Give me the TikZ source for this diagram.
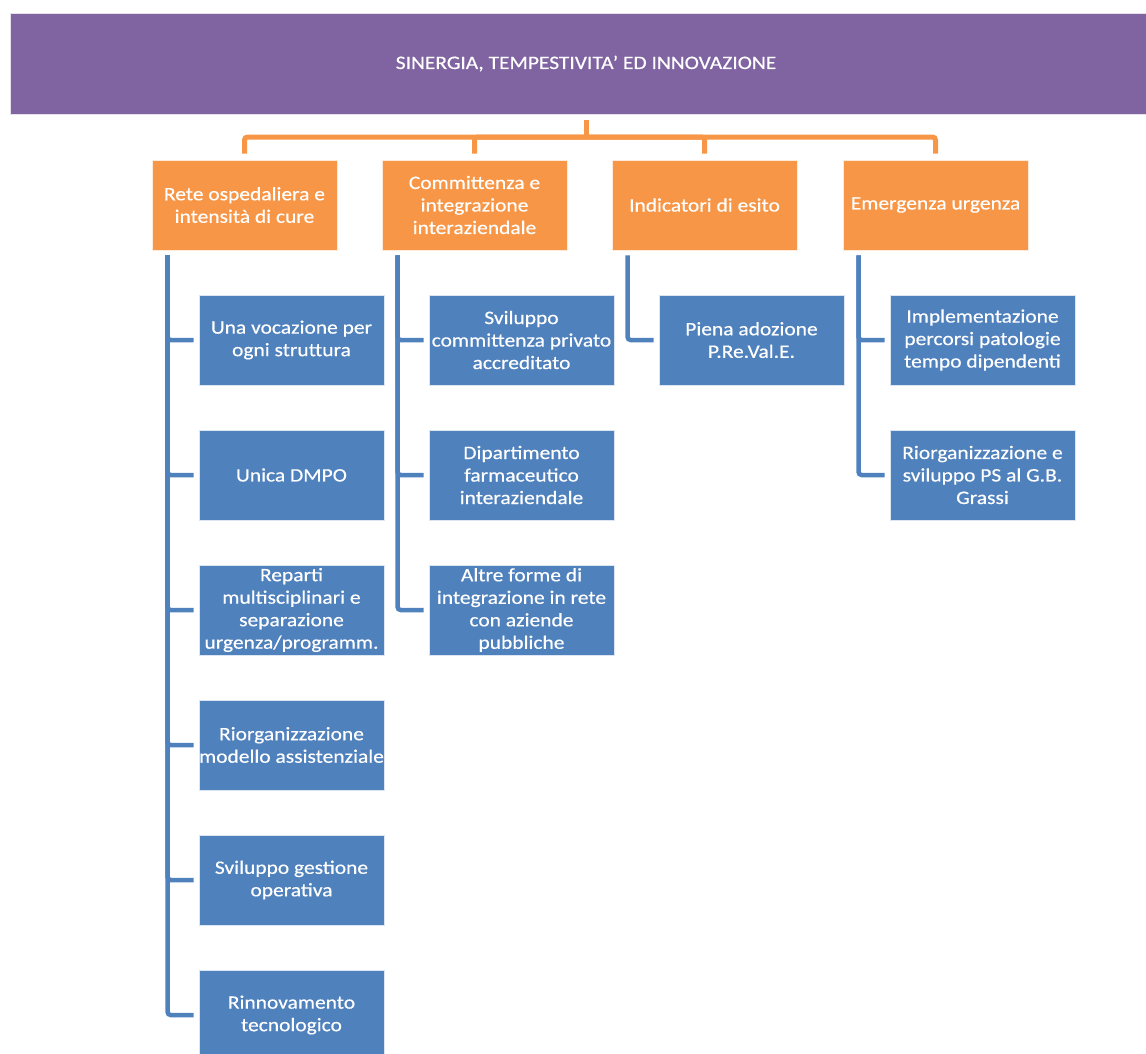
\documentclass[tikz,border=0pt]{standalone}
\usepackage{fontspec}
\setmainfont{Carlito}[FakeStretch=1.13,FakeBold=0.4]
\usetikzlibrary{calc}
\definecolor{cpurple}{HTML}{8064A2}
\definecolor{corange}{HTML}{F79646}
\definecolor{cblue}{HTML}{4F81BD}
\begin{document}
\begin{tikzpicture}[x=1pt,y=-1pt,
  titlebox/.style={fill=cpurple, draw=white!80!cpurple, line width=0.6pt, minimum width=1152pt, minimum height=101pt, text=white, font=\fontsize{19}{22}\selectfont, inner sep=0pt},
  obox/.style={fill=corange, draw=white!80!corange, line width=0.8pt, minimum width=185pt, minimum height=90pt, text=white, align=center, font=\fontsize{19}{22.5}\selectfont, inner sep=0pt},
  bbox/.style={fill=cblue, draw=white!80!cblue, line width=0.8pt, minimum width=185pt, minimum height=90pt, text=white, align=center, font=\fontsize{19}{22.5}\selectfont, inner sep=0pt},
  oconn/.style={draw=corange, line width=5pt, rounded corners=3pt},
  bconn/.style={draw=cblue, line width=4.5pt, rounded corners=3pt, shorten >=5pt},
]
\useasboundingbox (0,0) rectangle (1146,1053);

\node[titlebox] (title) at (586,63.5) {SINERGIA, TEMPESTIVITA’ ED INNOVAZIONE};

\node[obox] (o1) at (244.5,205) {Rete ospedaliera e\\intensità di cure};
\node[obox] (o2) at (474.5,205) {Committenza e\\integrazione\\interaziendale};
\node[obox] (o3) at (704.5,205) {Indicatori di esito};
\node[obox] (o4) at (935.5,205) {Emergenza urgenza};

\coordinate (hub) at (586,137);
\draw[oconn, shorten <=6pt] (title.south) -- (title.south |- hub);
\foreach \o in {o1,o2,o3,o4}
  \draw[oconn, shorten >=6pt] (hub) -| (\o.north);

% column 1
\node[bbox] (b11) at (291.5,340) {Una vocazione per\\ogni struttura};
\node[bbox] (b12) at (291.5,475) {Unica DMPO};
\node[bbox] (b13) at (291.5,610) {Reparti\\multisciplinari e\\separazione\\urgenza/programm.};
\node[bbox] (b14) at (291.5,745) {Riorganizzazione\\modello assistenziale};
\node[bbox] (b15) at (291.5,880) {Sviluppo gestione\\operativa};
\node[bbox] (b16) at (291.5,1015) {Rinnovamento\\tecnologico};
% column 2
\node[bbox] (b21) at (521.5,340) {Sviluppo\\committenza privato\\accreditato};
\node[bbox] (b22) at (521.5,475) {Dipartimento\\farmaceutico\\interaziendale};
\node[bbox] (b23) at (521.5,610) {Altre forme di\\integrazione in rete\\con aziende\\pubbliche};
% column 3
\node[bbox] (b31) at (751.5,340) {Piena adozione\\P.Re.Val.E.};
% column 4
\node[bbox] (b41) at (982.5,340) {Implementazione\\percorsi patologie\\tempo dipendenti};
\node[bbox] (b42) at (982.5,475) {Riorganizzazione e\\sviluppo PS al G.B.\\Grassi};

\foreach \b in {b11,b12,b13,b14,b15,b16}
  \draw[bconn] ($(o1.south west)+(16,5)$) |- (\b.west);
\foreach \b in {b21,b22,b23}
  \draw[bconn] ($(o2.south west)+(16,5)$) |- (\b.west);
\draw[bconn] ($(o3.south west)+(16,5)$) |- (b31.west);
\foreach \b in {b41,b42}
  \draw[bconn] ($(o4.south west)+(16,5)$) |- (\b.west);
\end{tikzpicture}
\end{document}
